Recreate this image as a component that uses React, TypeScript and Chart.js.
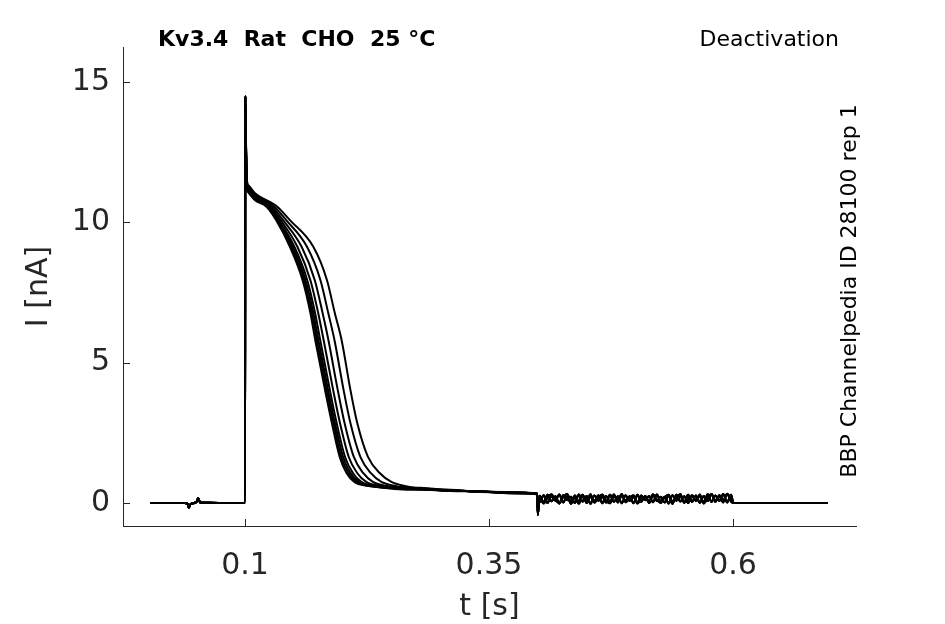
import React, { useEffect, useRef } from 'react';
import { Chart, registerables } from 'chart.js';

Chart.register(...registerables);

// axis ticks
const X_TICKS = [0.1, 0.35, 0.6];
const Y_TICKS = [0, 5, 10, 15];

// holding segment before the pulse (s, nA)
const PRE_T = [0.003, 0.038, 0.041, 0.0425, 0.044, 0.048, 0.0505, 0.052, 0.054, 0.0998];
const PRE_I = [0, 0, -0.02, -0.17, -0.05, 0, 0.05, 0.17, 0.02, 0];

// onset spike, one row per sweep
const ONSET_T = [0.1, 0.1003, 0.101, 0.102, 0.104, 0.11];
const ONSET_I = [
  [0, 14.5, 12.6, 11.3, 11.05, 10.8],
  [0, 14.5, 12.6, 11.3, 11.05, 10.82],
  [0, 14.5, 12.7, 11.35, 11.1, 10.85],
  [0, 14.5, 12.7, 11.35, 11.1, 10.88],
  [0, 14.5, 12.7, 11.4, 11.15, 10.9],
  [0, 14.5, 12.8, 11.4, 11.2, 10.95],
  [0, 14.5, 12.8, 11.45, 11.25, 11.0],
  [0, 14.5, 12.9, 11.5, 11.3, 11.05],
];

// current levels and the time each sweep passes them on the way down
const LEVELS = [10.56, 10.08, 9.13, 7.94, 6.77, 5.8, 4.03, 2.85, 1.64, 1.07, 0.75, 0.6];
const CROSS_T = [
  [0.122, 0.132, 0.146, 0.159, 0.167, 0.172, 0.182, 0.189, 0.197, 0.204, 0.212, 0.228],
  [0.1227, 0.1328, 0.1474, 0.1605, 0.1685, 0.1736, 0.1836, 0.1906, 0.1987, 0.206, 0.2143, 0.2302],
  [0.1233, 0.1337, 0.1489, 0.162, 0.17, 0.1752, 0.1851, 0.1921, 0.2005, 0.2081, 0.2166, 0.2324],
  [0.1241, 0.1347, 0.1506, 0.1638, 0.1718, 0.1771, 0.1869, 0.1939, 0.2025, 0.2105, 0.2192, 0.235],
  [0.1255, 0.1365, 0.1537, 0.167, 0.175, 0.1806, 0.1903, 0.1973, 0.2063, 0.2149, 0.2242, 0.2398],
  [0.1275, 0.139, 0.158, 0.1715, 0.1795, 0.1855, 0.195, 0.202, 0.2115, 0.221, 0.231, 0.2465],
  [0.13, 0.1422, 0.1635, 0.1773, 0.1853, 0.1917, 0.201, 0.208, 0.2182, 0.2288, 0.2397, 0.255],
  [0.133, 0.146, 0.17, 0.184, 0.192, 0.199, 0.208, 0.215, 0.226, 0.238, 0.25, 0.265],
];

// slow tail until the step
const TAIL_T = [0.28, 0.31, 0.34, 0.37, 0.3995];
const TAIL_I = [
  [0.5, 0.44, 0.42, 0.36, 0.33],
  [0.47, 0.47, 0.39, 0.38, 0.31],
  [0.53, 0.43, 0.43, 0.35, 0.34],
  [0.49, 0.46, 0.4, 0.39, 0.32],
  [0.52, 0.45, 0.41, 0.36, 0.35],
  [0.48, 0.44, 0.42, 0.38, 0.3],
  [0.54, 0.46, 0.4, 0.37, 0.33],
  [0.51, 0.43, 0.41, 0.35, 0.32],
];

// step artefact at 0.4 s
const STEP_T = [0.4, 0.4008, 0.4016];
const STEP_I = [-0.42, -0.1, 0.12];

// noisy segment 0.402 .. 0.598 s, sampled every 4 ms
const NOISE_T0 = 0.402;
const NOISE_DT = 0.004;
const NOISE_A = [
  0.26, 0.02, 0.29, 0.06, 0.24, -0.02, 0.28, 0.1, 0.22, 0.0,
  0.3, 0.05, 0.25, -0.03, 0.27, 0.08, 0.23, 0.02, 0.29, 0.04,
  0.24, -0.01, 0.28, 0.07, 0.21, 0.01, 0.27, 0.1, 0.25, 0.03,
  0.3, 0.05, 0.22, -0.02, 0.28, 0.08, 0.24, 0.02, 0.29, 0.04,
  0.27, 0.01, 0.25, 0.07, 0.31, 0.04, 0.28, 0.1, 0.32, 0.05,
];
const NOISE_B = [
  0.03, 0.28, 0.0, 0.25, 0.08, 0.3, 0.02, 0.24, -0.03, 0.27,
  0.05, 0.29, 0.0, 0.22, 0.07, 0.28, -0.01, 0.25, 0.04, 0.3,
  0.02, 0.27, 0.08, 0.24, -0.01, 0.29, 0.04, 0.25, 0.0, 0.28,
  0.07, 0.22, 0.02, 0.27, -0.03, 0.29, 0.05, 0.24, 0.0, 0.28,
  0.08, 0.25, 0.02, 0.31, 0.04, 0.27, 0.07, 0.32, 0.02, 0.29,
];
const NOISE_C = [
  0.14, -0.02, 0.19, 0.31, 0.1, -0.01, 0.21, 0.32, 0.07, 0.17,
  -0.03, 0.25, 0.12, 0.31, 0.01, 0.19, 0.3, 0.08, -0.01, 0.23,
  0.13, 0.32, 0.03, 0.18, 0.28, -0.02, 0.15, 0.24, 0.06, 0.31,
  0.1, 0.0, 0.21, 0.29, 0.05, 0.17, 0.32, 0.01, 0.13, 0.25,
  0.07, 0.3, -0.02, 0.19, 0.32, 0.09, 0.23, 0.02, 0.33, 0.15,
];
const NOISE = [NOISE_A, NOISE_B, NOISE_C];

// back to holding
const END_T = [0.6005, 0.697];
const END_I = [0, 0];

const FONT = 'DejaVu Sans';
const AXIS_COLOR = '#262626';

function buildSweep(k: number) {
  const pts: { x: number; y: number }[] = [];
  PRE_T.forEach((t, i) => pts.push({ x: t, y: PRE_I[i] }));
  ONSET_T.forEach((t, i) => pts.push({ x: t, y: ONSET_I[k][i] }));
  CROSS_T[k].forEach((t, i) => pts.push({ x: t, y: LEVELS[i] }));
  TAIL_T.forEach((t, i) => pts.push({ x: t, y: TAIL_I[k][i] }));
  STEP_T.forEach((t, i) => pts.push({ x: t, y: STEP_I[i] }));
  NOISE[k % 3].forEach((v, i) => pts.push({ x: NOISE_T0 + i * NOISE_DT, y: v }));
  END_T.forEach((t, i) => pts.push({ x: t, y: END_I[i] }));
  return pts;
}

// tick marks that point into the plot, like the original
const innerTicks = {
  id: 'innerTicks',
  afterDatasetsDraw(chart: any) {
    const { ctx, chartArea, scales } = chart;
    ctx.save();
    ctx.strokeStyle = AXIS_COLOR;
    ctx.lineWidth = 1;
    ctx.beginPath();
    scales.x.ticks.forEach((t: any) => {
      const px = Math.round(scales.x.getPixelForValue(t.value)) + 0.5;
      ctx.moveTo(px, chartArea.bottom);
      ctx.lineTo(px, chartArea.bottom - 7);
    });
    scales.y.ticks.forEach((t: any) => {
      const py = Math.round(scales.y.getPixelForValue(t.value)) + 0.5;
      ctx.moveTo(chartArea.left, py);
      ctx.lineTo(chartArea.left + 7, py);
    });
    ctx.stroke();
    ctx.restore();
  },
};

const annotations = {
  id: 'annotations',
  afterDraw(chart: any) {
    const { ctx } = chart;
    ctx.save();
    ctx.fillStyle = '#000';
    ctx.textBaseline = 'middle';
    ctx.font = `bold 22px "${FONT}"`;
    ctx.textAlign = 'left';
    ctx.fillText('Kv3.4  Rat  CHO  25 °C', 158, 40);
    ctx.font = `22px "${FONT}"`;
    ctx.textAlign = 'right';
    ctx.fillText('Deactivation', 839, 40);
    ctx.translate(850, 291);
    ctx.rotate(-Math.PI / 2);
    ctx.textAlign = 'center';
    ctx.fillText('BBP Channelpedia ID 28100 rep 1', 0, 0);
    ctx.restore();
  },
};

const App: React.FC = () => {
  const canvasRef = useRef<HTMLCanvasElement>(null);

  useEffect(() => {
    const datasets = CROSS_T.map((_, k) => ({
      data: buildSweep(k),
      borderColor: '#000',
      borderWidth: 2,
      pointRadius: 0,
      fill: false,
      cubicInterpolationMode: 'monotone' as const,
    }));

    const chart = new Chart(canvasRef.current!, {
      type: 'line',
      data: { datasets },
      options: {
        animation: false,
        responsive: false,
        devicePixelRatio: 1,
        layout: { padding: { left: 0, top: 47, right: 89, bottom: 0 } },
        plugins: { legend: { display: false }, tooltip: { enabled: false } },
        scales: {
          x: {
            type: 'linear',
            min: -0.025,
            max: 0.726,
            afterBuildTicks: (s: any) => {
              s.ticks = X_TICKS.map((v) => ({ value: v }));
            },
            afterFit: (s: any) => {
              s.height = 98;
            },
            grid: { display: true, drawOnChartArea: false, drawTicks: false },
            border: { display: true, color: AXIS_COLOR, width: 1 },
            ticks: {
              autoSkip: false,
              maxRotation: 0,
              padding: 22,
              color: AXIS_COLOR,
              font: { family: FONT, size: 30 },
              callback: (v: any) => String(v),
            },
            title: {
              display: true,
              text: 't [s]',
              color: AXIS_COLOR,
              font: { family: FONT, size: 30, lineHeight: 1.2 },
              padding: { top: 0, bottom: -1 },
            },
          },
          y: {
            type: 'linear',
            min: -0.82,
            max: 16.25,
            afterBuildTicks: (s: any) => {
              s.ticks = Y_TICKS.map((v) => ({ value: v }));
            },
            afterFit: (s: any) => {
              s.width = 123;
            },
            grid: { display: true, drawOnChartArea: false, drawTicks: false },
            border: { display: true, color: AXIS_COLOR, width: 1 },
            ticks: {
              autoSkip: false,
              padding: 13,
              color: AXIS_COLOR,
              font: { family: FONT, size: 30 },
              callback: (v: any) => String(v),
            },
            title: {
              display: true,
              text: 'I [nA]',
              color: AXIS_COLOR,
              font: { family: FONT, size: 30, lineHeight: 1.2 },
              padding: { top: 21, bottom: 0 },
            },
          },
        },
      },
      plugins: [innerTicks, annotations],
    });

    return () => {
      chart.destroy();
    };
  }, []);

  return (
    <div style={{ position: 'absolute', left: 0, top: 0, width: 945, height: 624, background: '#fff' }}>
      <canvas ref={canvasRef} width={945} height={624} />
    </div>
  );
};

export default App;
